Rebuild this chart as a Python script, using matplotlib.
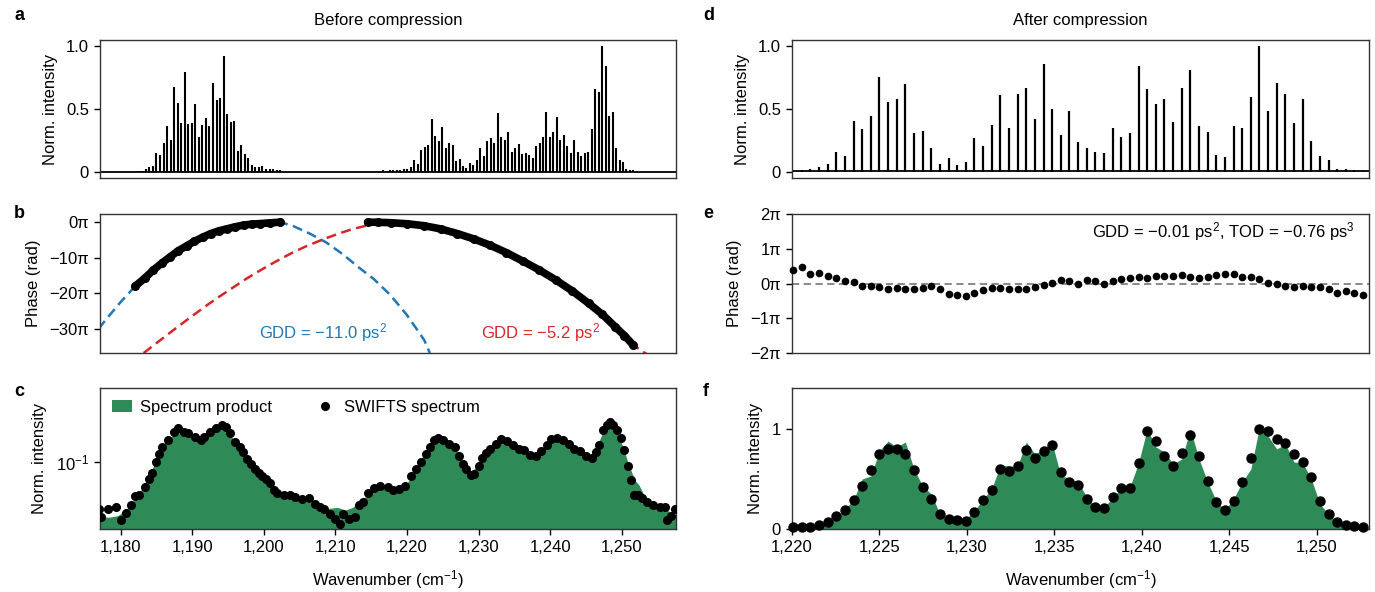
import numpy as np
import matplotlib
matplotlib.use("Agg")
import matplotlib.pyplot as plt
from matplotlib.patches import Patch
from matplotlib.lines import Line2D

plt.rcParams['font.family'] = ['Liberation Sans', 'DejaVu Sans']
plt.rcParams['mathtext.fontset'] = 'custom'
plt.rcParams['mathtext.rm'] = 'Liberation Sans'
plt.rcParams['mathtext.it'] = 'Liberation Sans:italic'
plt.rcParams['mathtext.default'] = 'regular'
plt.rcParams['font.size'] = 12
plt.rcParams['axes.edgecolor'] = '#333333'
plt.rcParams['axes.linewidth'] = 1.0

GREEN = '#2e8b57'
BLUE = '#1f77b4'
RED = '#d62728'

# ---- panel a: spectrum before compression (comb line heights) ----
A1_START, A1_STEP = 1182.52, 0.494
a1_heights = [0.008, 0.01, 0.03, 0.04, 0.05, 0.15, 0.14, 0.23, 0.37, 0.26,
              0.675, 0.55, 0.39, 0.80, 0.38, 0.39, 0.545, 0.28, 0.375, 0.43,
              0.37, 0.71, 0.57, 0.59, 0.92, 0.46, 0.40, 0.41, 0.17, 0.215,
              0.145, 0.11, 0.06, 0.04, 0.04, 0.047, 0.03, 0.026, 0.026, 0.02, 0.015]
A2_START, A2_STEP = 1216.17, 0.486
a2_heights = [0.012, 0.015, 0.012, 0.018, 0.015, 0.015, 0.02,
              0.026, 0.026, 0.04, 0.10, 0.07, 0.18, 0.20, 0.22, 0.42, 0.29,
              0.25, 0.36, 0.19, 0.23, 0.22, 0.086, 0.105, 0.05, 0.037, 0.073,
              0.058, 0.094, 0.19, 0.126, 0.25, 0.27, 0.23, 0.47, 0.28, 0.257,
              0.32, 0.16, 0.19, 0.225, 0.147, 0.155, 0.14, 0.115, 0.205, 0.23,
              0.28, 0.48, 0.28, 0.32, 0.44, 0.257, 0.30, 0.207, 0.15, 0.26,
              0.16, 0.126, 0.157, 0.16, 0.34, 0.66, 0.635, 1.0,
              0.84, 0.45, 0.48, 0.19, 0.094, 0.08, 0.026, 0.02, 0.015, 0.01]
A_BASELINE = 0.006

# ---- panel b: measured phase (units of pi) and quadratic fits ----
b_seg1_x = [1182.0, 1183.4, 1184.5, 1185.7, 1186.9, 1188.0, 1189.2, 1190.3, 1191.5,
            1192.6, 1193.8, 1194.9, 1196.0, 1197.2, 1198.4, 1199.5, 1200.9, 1202.3]
b_seg1_y = [-18.1, -15.7, -13.6, -11.6, -9.8, -8.1, -6.7, -5.4, -4.2,
            -3.2, -2.4, -1.85, -1.3, -0.8, -0.55, -0.4, -0.2, 0.0]
b_seg2_x = [1214.5, 1216.0, 1217.7, 1220.0, 1222.4, 1224.7, 1227.0, 1229.3, 1231.6,
            1233.9, 1236.2, 1238.5, 1240.8, 1243.1, 1245.4, 1247.3, 1249.1, 1250.4, 1251.6]
b_seg2_y = [0.0, -0.05, -0.15, -0.45, -1.0, -1.9, -3.2, -4.7, -6.5,
            -8.6, -11.0, -13.5, -16.3, -19.4, -22.9, -26.0, -29.5, -32.0, -34.6]
b_blue_x = [1176.9, 1178.0, 1179.0, 1180.0, 1181.0, 1182.0, 1185.7, 1190.3, 1194.9,
            1199.5, 1202.3, 1204.1, 1206.4, 1208.7, 1211.0, 1213.1, 1215.4, 1217.7,
            1220.0, 1222.4, 1223.2]
b_blue_y = [-30.1, -27.3, -24.9, -22.5, -20.3, -18.1, -11.6, -5.4, -1.9,
            -0.4, 0.0, -1.1, -3.2, -5.7, -9.0, -12.5, -16.1, -20.6,
            -26.2, -33.2, -36.9]
b_red_x = [1183.2, 1185.0, 1186.8, 1188.5, 1190.3, 1192.0, 1193.7, 1195.5, 1197.2,
           1198.9, 1200.6, 1202.4, 1204.1, 1205.8, 1207.6, 1209.0, 1210.5, 1212.0,
           1213.1, 1214.5, 1216.0, 1218.0, 1220.0, 1222.4, 1224.7, 1227.0, 1229.3,
           1231.6, 1233.9, 1236.2, 1238.5, 1240.8, 1243.1, 1245.4, 1247.3, 1249.1,
           1250.4, 1251.6, 1252.6, 1253.5]
b_red_y = [-36.9, -34.1, -31.3, -28.7, -26.0, -23.5, -21.1, -18.7, -16.4,
           -14.3, -12.3, -10.3, -8.5, -6.9, -5.4, -4.3, -3.2, -2.2,
           -1.6, -0.9, -0.5, -0.3, -0.45, -1.0, -1.9, -3.2, -4.7,
           -6.5, -8.6, -11.0, -13.5, -16.3, -19.4, -22.9, -26.0, -29.5,
           -32.0, -34.6, -36.0, -37.2]

# ---- panel c: spectrum product (fill) and SWIFTS spectrum (dots) ----
c_prod_x = [1176.8, 1178.5, 1179.6, 1180.7, 1181.8, 1182.8, 1183.9, 1184.7, 1185.5,
            1186.6, 1187.7, 1188.8, 1190.4, 1191.4, 1192.5, 1193.9, 1194.7, 1195.8,
            1196.8, 1197.9, 1199.0, 1200.6, 1202.2, 1203.8, 1205.4, 1207.1, 1208.7,
            1210.3, 1211.4, 1212.4, 1213.5, 1214.6, 1216.2, 1218.4, 1220.0, 1221.1,
            1222.1, 1223.8, 1225.4, 1227.0, 1228.1, 1228.9, 1230.2, 1231.9, 1233.2,
            1234.5, 1236.1, 1237.8, 1238.8, 1239.9, 1241.5, 1243.1, 1244.8, 1245.8,
            1246.6, 1247.4, 1248.3, 1249.1, 1250.1, 1250.9, 1251.8, 1252.4, 1253.1,
            1254.4, 1256.1, 1257.7]
c_prod = [0.028, 0.028, 0.029, 0.033, 0.041, 0.052, 0.072, 0.095, 0.130,
          0.164, 0.200, 0.192, 0.173, 0.164, 0.192, 0.225, 0.216, 0.164,
          0.130, 0.098, 0.081, 0.066, 0.050, 0.047, 0.041, 0.038, 0.034,
          0.035, 0.033, 0.035, 0.041, 0.047, 0.056, 0.055, 0.061, 0.081,
          0.111, 0.164, 0.158, 0.130, 0.091, 0.078, 0.098, 0.140, 0.164,
          0.152, 0.135, 0.117, 0.130, 0.164, 0.164, 0.140, 0.120, 0.111,
          0.146, 0.200, 0.243, 0.216, 0.146, 0.098, 0.066, 0.059, 0.047,
          0.038, 0.034, 0.028]
c_swifts_x = [1176.9, 1177.3, 1178.25, 1179.3, 1180.1, 1180.7, 1181.5, 1182.0, 1182.6,
              1183.4, 1183.9, 1184.3, 1184.9, 1185.3, 1185.8, 1186.6, 1187.4, 1188.0,
              1188.8, 1189.4, 1190.4, 1191.2, 1191.7, 1192.5, 1193.3, 1194.1, 1194.7,
              1195.3, 1196.0, 1196.6, 1197.1, 1197.6, 1198.2, 1198.7, 1199.3, 1199.8,
              1200.3, 1200.9, 1201.4, 1201.9, 1202.8, 1203.6, 1204.4, 1205.4, 1206.3,
              1207.1, 1207.9, 1208.4, 1209.2, 1210.0, 1210.6, 1211.1, 1211.9, 1212.7,
              1213.3, 1213.8, 1214.6, 1215.4, 1216.2, 1217.3, 1218.1, 1218.9, 1219.7,
              1220.5, 1221.3, 1221.9, 1222.6, 1223.2, 1223.8, 1224.3, 1225.1, 1225.9,
              1226.7, 1227.3, 1227.8, 1228.3, 1228.9, 1229.4, 1230.0, 1230.5, 1231.0,
              1231.6, 1232.4, 1233.2, 1234.0, 1234.8, 1235.6, 1236.4, 1237.2, 1238.0,
              1238.8, 1239.6, 1240.2, 1241.0, 1241.8, 1242.6, 1243.4, 1244.2, 1245.0,
              1245.8, 1246.4, 1246.9, 1247.4, 1248.0, 1248.4, 1248.8, 1249.3, 1249.9,
              1250.4, 1250.9, 1251.3, 1251.8, 1252.3, 1252.8, 1253.6, 1254.4, 1255.3,
              1256.0, 1256.3, 1256.9, 1257.4]
c_swifts = [0.034, 0.028, 0.034, 0.035, 0.026, 0.031, 0.037, 0.045, 0.047,
            0.056, 0.068, 0.078, 0.100, 0.120, 0.140, 0.164, 0.200, 0.216,
            0.200, 0.192, 0.178, 0.164, 0.178, 0.200, 0.219, 0.234, 0.225,
            0.192, 0.158, 0.140, 0.125, 0.107, 0.095, 0.084, 0.077, 0.072,
            0.068, 0.061, 0.052, 0.049, 0.047, 0.047, 0.044, 0.042, 0.043,
            0.038, 0.035, 0.034, 0.030, 0.027, 0.024, 0.030, 0.027, 0.028,
            0.037, 0.040, 0.049, 0.055, 0.057, 0.056, 0.052, 0.053, 0.057,
            0.072, 0.084, 0.100, 0.120, 0.140, 0.164, 0.173, 0.164, 0.152,
            0.140, 0.115, 0.095, 0.084, 0.073, 0.075, 0.090, 0.108, 0.123,
            0.135, 0.152, 0.168, 0.160, 0.148, 0.135, 0.130, 0.117, 0.115,
            0.127, 0.146, 0.168, 0.171, 0.164, 0.152, 0.135, 0.127, 0.115,
            0.108, 0.125, 0.146, 0.208, 0.234, 0.249, 0.234, 0.208, 0.171,
            0.130, 0.091, 0.066, 0.047, 0.047, 0.043, 0.040, 0.037, 0.035,
            0.035, 0.026, 0.029, 0.034]

# ---- panels d-f: after compression, on the comb mode grid ----
MODE_START, MODE_STEP = 1220.06, 0.494
d_heights = [0.01, 0.02, 0.03, 0.04, 0.07, 0.165, 0.13, 0.41, 0.345, 0.45,
             0.76, 0.56, 0.58, 0.70, 0.31, 0.325, 0.19, 0.07, 0.11, 0.06,
             0.08, 0.27, 0.21, 0.375, 0.61, 0.35, 0.62, 0.67, 0.42, 0.86,
             0.505, 0.30, 0.49, 0.24, 0.19, 0.165, 0.157, 0.35, 0.28, 0.31,
             0.84, 0.66, 0.54, 0.58, 0.40, 0.67, 0.81, 0.37, 0.32, 0.136,
             0.12, 0.37, 0.35, 0.60, 1.0, 0.49, 0.71, 0.62, 0.39, 0.58,
             0.25, 0.126, 0.094, 0.026, 0.03, 0.02, 0.01]
D_BASELINE = 0.008
e_phase = [0.375, 0.47, 0.28, 0.31, 0.21, 0.17, 0.06, 0.04, -0.08, -0.08,
           -0.10, -0.17, -0.13, -0.17, -0.15, -0.13, -0.08, -0.15, -0.30, -0.33,
           -0.37, -0.27, -0.19, -0.13, -0.13, -0.17, -0.17, -0.15, -0.10, -0.04,
           0.02, 0.09, 0.06, 0.0, 0.09, 0.06, -0.01, 0.08, 0.13, 0.16,
           0.18, 0.15, 0.22, 0.23, 0.21, 0.25, 0.20, 0.17, 0.20, 0.25,
           0.28, 0.26, 0.20, 0.18, 0.12, 0.02, -0.02, -0.06, -0.10, -0.06,
           -0.09, -0.11, -0.17, -0.26, -0.23, -0.27, -0.33]
f_swifts = [0.02, 0.02, 0.02, 0.04, 0.07, 0.13, 0.19, 0.29, 0.43, 0.59,
            0.75, 0.80, 0.80, 0.75, 0.59, 0.42, 0.30, 0.15, 0.10, 0.09,
            0.08, 0.17, 0.29, 0.39, 0.60, 0.58, 0.63, 0.79, 0.71, 0.78,
            0.84, 0.57, 0.47, 0.44, 0.30, 0.22, 0.21, 0.32, 0.41, 0.41,
            0.66, 0.98, 0.88, 0.73, 0.63, 0.76, 0.94, 0.73, 0.48, 0.27,
            0.19, 0.28, 0.47, 0.71, 1.0, 0.98, 0.90, 0.86, 0.75, 0.67,
            0.52, 0.28, 0.15, 0.07, 0.04, 0.03, 0.02]
f_prod = [0.01, 0.01, 0.02, 0.03, 0.06, 0.12, 0.20, 0.29, 0.50, 0.53,
          0.78, 0.88, 0.82, 0.87, 0.60, 0.43, 0.35, 0.15, 0.10, 0.10,
          0.10, 0.18, 0.30, 0.40, 0.64, 0.63, 0.63, 0.87, 0.75, 0.80,
          0.86, 0.53, 0.51, 0.47, 0.32, 0.22, 0.22, 0.31, 0.41, 0.42,
          0.66, 1.00, 0.82, 0.77, 0.65, 0.70, 1.00, 0.70, 0.47, 0.28,
          0.19, 0.30, 0.47, 0.60, 1.02, 0.93, 0.80, 0.85, 0.67, 0.66,
          0.50, 0.25, 0.15, 0.07, 0.04, 0.03, 0.02]

left_ticks = [1180, 1190, 1200, 1210, 1220, 1230, 1240, 1250]
right_ticks = [1220, 1225, 1230, 1235, 1240, 1245, 1250]
b_ticks = [0, -10, -20, -30]
e_ticks = [2, 1, 0, -1, -2]


def pi_label(v):
    return f"{v}π".replace("-", "\u2212")


def style(ax, xticks=None):
    ax.tick_params(direction='out', length=4, width=1, labelsize=12, pad=4)
    if xticks is None:
        ax.set_xticks([])
    else:
        ax.set_xticks(xticks)
        ax.set_xticklabels([f"{t:,}" for t in xticks])


fig = plt.figure(figsize=(13.75, 5.92), dpi=100)
L0, LW = 100 / 1375, 576 / 1375
R0, RW = 792 / 1375, 577 / 1375
rows = [(1 - 178 / 592, 138 / 592), (1 - 353 / 592, 139 / 592), (1 - 529 / 592, 141 / 592)]

ax_a = fig.add_axes([L0, rows[0][0], LW, rows[0][1]])
ax_b = fig.add_axes([L0, rows[1][0], LW, rows[1][1]])
ax_c = fig.add_axes([L0, rows[2][0], LW, rows[2][1]])
ax_d = fig.add_axes([R0, rows[0][0], RW, rows[0][1]])
ax_e = fig.add_axes([R0, rows[1][0], RW, rows[1][1]])
ax_f = fig.add_axes([R0, rows[2][0], RW, rows[2][1]])

LXLIM = (1177.1, 1257.6)
RXLIM = (1220.0, 1253.0)

# a
a1_x = A1_START + A1_STEP * np.arange(len(a1_heights))
a2_x = A2_START + A2_STEP * np.arange(len(a2_heights))
ax_a.axhline(A_BASELINE, color='black', lw=1.3)
ax_a.vlines(a1_x, 0, a1_heights, color='black', lw=1.5)
ax_a.vlines(a2_x, 0, a2_heights, color='black', lw=1.5)
ax_a.set_xlim(*LXLIM)
ax_a.set_ylim(-0.045, 1.05)
ax_a.set_yticks([0, 0.5, 1.0])
ax_a.set_yticklabels(['0', '0.5', '1.0'])
ax_a.set_ylabel('Norm. intensity', labelpad=6)
ax_a.set_title('Before compression', fontsize=12, pad=11)
style(ax_a)

# b
ax_b.plot(b_blue_x, b_blue_y, color=BLUE, lw=1.8, dashes=(4, 2.2))
ax_b.plot(b_red_x, b_red_y, color=RED, lw=1.8, dashes=(4, 2.2))
for sx, sy in [(b_seg1_x, b_seg1_y), (b_seg2_x, b_seg2_y)]:
    ax_b.plot(sx, sy, color='black', lw=5.5, solid_capstyle='round', zorder=3)
    ax_b.plot(sx, sy, 'o', color='black', ms=5.5, zorder=3)
ax_b.text(1208.3, -31, 'GDD = \u221211.0 ps$^2$', color=BLUE, ha='center', va='center', fontsize=12)
ax_b.text(1238.7, -31, 'GDD = \u22125.2 ps$^2$', color=RED, ha='center', va='center', fontsize=12)
ax_b.set_xlim(*LXLIM)
ax_b.set_ylim(-36.9, 2.3)
ax_b.set_yticks(b_ticks)
ax_b.set_yticklabels([pi_label(t) for t in b_ticks])
ax_b.set_ylabel('Phase (rad)', labelpad=6)
style(ax_b)

# c
ax_c.fill_between(c_prod_x, c_prod, 1e-3, color=GREEN, lw=0)
ax_c.plot(c_swifts_x, c_swifts, 'o', color='black', ms=5.5, zorder=3)
ax_c.set_yscale('log')
ax_c.set_xlim(*LXLIM)
ax_c.set_ylim(0.0213, 0.546)
ax_c.set_yticks([0.1])
ax_c.set_yticklabels(['$10^{-1}$'])
ax_c.yaxis.set_minor_locator(matplotlib.ticker.NullLocator())
ax_c.set_ylabel('Norm. intensity', labelpad=6)
ax_c.set_xlabel('Wavenumber (cm$^{-1}$)', labelpad=9)
handles = [Patch(facecolor=GREEN, edgecolor='none', label='Spectrum product'),
           Line2D([], [], marker='o', ls='', color='black', ms=5.5, label='SWIFTS spectrum')]
ax_c.legend(handles=handles, loc='upper left', ncol=2, frameon=False, fontsize=12,
            columnspacing=2.6, handlelength=1.2, handletextpad=0.5,
            borderaxespad=0.6, borderpad=0.1)
style(ax_c, left_ticks)

# d
mode_x = MODE_START + MODE_STEP * np.arange(len(d_heights))
ax_d.axhline(D_BASELINE, color='black', lw=1.3)
ax_d.vlines(mode_x, 0, d_heights, color='black', lw=1.6)
ax_d.set_xlim(*RXLIM)
ax_d.set_ylim(-0.045, 1.05)
ax_d.set_yticks([0, 0.5, 1.0])
ax_d.set_yticklabels(['0', '0.5', '1.0'])
ax_d.set_ylabel('Norm. intensity', labelpad=6)
ax_d.set_title('After compression', fontsize=12, pad=11)
style(ax_d)

# e
ax_e.axhline(0, color='#808080', lw=1.3, dashes=(4, 2.5))
ax_e.plot(mode_x, e_phase, 'o', color='black', ms=4.5, clip_on=False, zorder=3)
ax_e.text(0.976, 0.875, 'GDD = \u22120.01 ps$^2$, TOD = \u22120.76 ps$^3$',
          transform=ax_e.transAxes, ha='right', va='center', fontsize=12)
ax_e.set_xlim(*RXLIM)
ax_e.set_ylim(-2, 2)
ax_e.set_yticks(e_ticks)
ax_e.set_yticklabels([pi_label(t) for t in e_ticks])
ax_e.set_ylabel('Phase (rad)', labelpad=6)
style(ax_e)

# f
ax_f.fill_between(mode_x, f_prod, 0, color=GREEN, lw=0)
ax_f.plot(mode_x, f_swifts, 'o', color='black', ms=6.5, clip_on=False, zorder=3)
ax_f.set_xlim(*RXLIM)
ax_f.set_ylim(0, 1.41)
ax_f.set_yticks([0, 1])
ax_f.set_yticklabels(['0', '1'])
ax_f.set_ylabel('Norm. intensity', labelpad=6)
ax_f.set_xlabel('Wavenumber (cm$^{-1}$)', labelpad=9)
style(ax_f, right_ticks)

# panel letters
for letter, px, py in [('a', 14, 16), ('b', 14, 213), ('c', 14, 392),
                       ('d', 703, 16), ('e', 703, 213), ('f', 703, 392)]:
    fig.text(px / 1375, 1 - py / 592, letter, fontsize=13, fontweight='bold',
             ha='left', va='center')

fig.savefig('out.png', dpi=100)
